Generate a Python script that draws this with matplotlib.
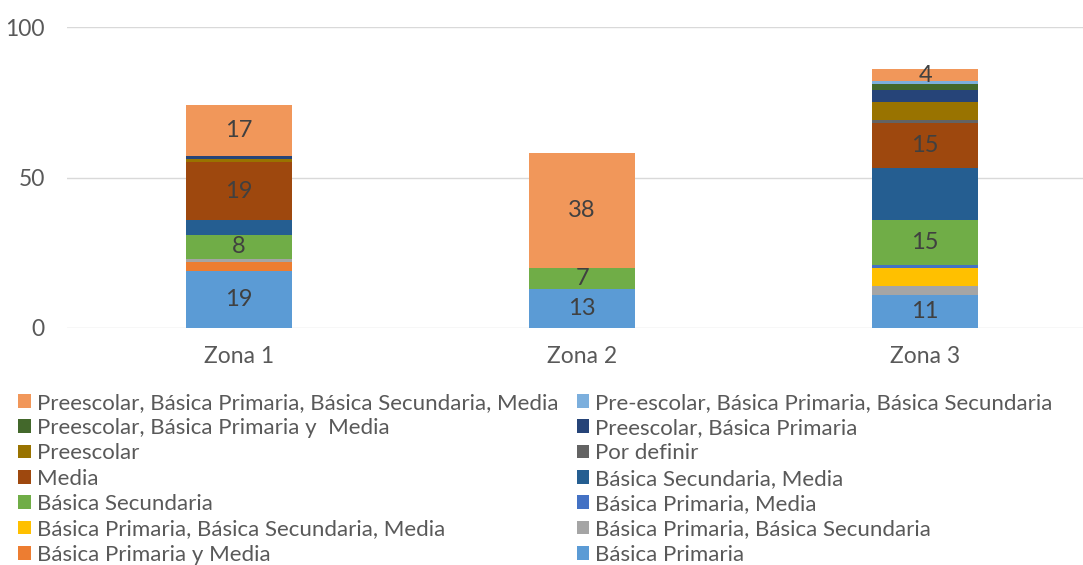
import numpy as np
import matplotlib
matplotlib.use("Agg")
import matplotlib.pyplot as plt

plt.rcParams['font.family'] = ['Lato', 'DejaVu Sans']

zonas = ["Zona 1", "Zona 2", "Zona 3"]

# series from bottom of the stack to the top
series = [
    "Básica Primaria",
    "Básica Primaria y Media",
    "Básica Primaria, Básica Secundaria",
    "Básica Primaria, Básica Secundaria, Media",
    "Básica Primaria, Media",
    "Básica Secundaria",
    "Básica Secundaria, Media",
    "Media",
    "Por definir",
    "Preescolar",
    "Preescolar, Básica Primaria",
    "Preescolar, Básica Primaria y  Media",
    "Pre-escolar, Básica Primaria, Básica Secundaria",
    "Preescolar, Básica Primaria, Básica Secundaria, Media",
]
valores = [
    [19, 13, 11],
    [3, 0, 0],
    [1, 0, 3],
    [0, 0, 6],
    [0, 0, 1],
    [8, 7, 15],
    [5, 0, 17],
    [19, 0, 15],
    [0, 0, 1],
    [1, 0, 6],
    [1, 0, 4],
    [0, 0, 2],
    [0, 0, 1],
    [17, 38, 4],
]
colores = ["#5B9BD5", "#ED7D31", "#A5A5A5", "#FFC000", "#4472C4", "#70AD47",
           "#255E91", "#9E480E", "#636363", "#997300", "#264478", "#43682B",
           "#7CAFDD", "#F1975A"]
# series that carry data labels
con_etiqueta = ["Básica Primaria", "Básica Secundaria", "Media",
                "Preescolar, Básica Primaria, Básica Secundaria, Media"]

fig = plt.figure(figsize=(10.83, 5.65), dpi=100)
ax = fig.add_axes([67/1083, 237/565, 1016/1083, 301/565])

x = np.arange(len(zonas))
base = np.zeros(len(zonas))
barras = []
for nombre, vals, c in zip(series, valores, colores):
    vals = np.array(vals, dtype=float)
    b = ax.bar(x, vals, 0.31, bottom=base, color=c, label=nombre, zorder=3)
    barras.append(b)
    if nombre in con_etiqueta:
        for xi, v, b0 in zip(x, vals, base):
            if v > 0:
                ax.text(xi, b0 + v/2, f"{int(v)}", ha="center", va="center",
                        fontsize=17, color="#404040", zorder=4)
    base += vals

ax.set_xlim(-0.5015, 2.46)
ax.set_ylim(0, 100)
ax.set_yticks([0, 50, 100])
ax.set_xticks(x)
ax.set_xticklabels(zonas)
ax.grid(axis="y", color="#D9D9D9", linewidth=1, zorder=0)
for s in ax.spines.values():
    s.set_visible(False)
ax.tick_params(length=0, labelsize=16.5, colors="#595959")
ax.tick_params(axis="y", pad=16)
ax.tick_params(axis="x", pad=13)

# legend: Excel lists the top series first, row by row in two columns
rev = list(zip(barras, series))[::-1]
orden = rev[0::2] + rev[1::2]
leg = fig.legend([h for h, _ in orden], [l for _, l in orden], ncol=2,
                 loc="upper left", bbox_to_anchor=(0.017, 0.305),
                 frameon=False, fontsize=16, labelcolor="#595959",
                 handlelength=0.55, handleheight=0.55, handletextpad=0.3,
                 columnspacing=0.8, labelspacing=0.24, borderpad=0,
                 borderaxespad=0)

fig.savefig("out.png", dpi=100)
